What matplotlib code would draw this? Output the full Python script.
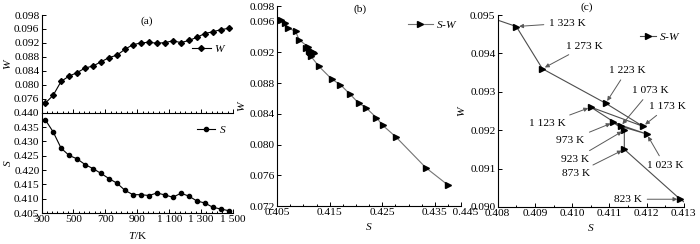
import matplotlib
matplotlib.use("Agg")
from matplotlib import pyplot as plt
from matplotlib.ticker import MultipleLocator, AutoMinorLocator, FixedLocator, FixedFormatter, FuncFormatter

plt.rcParams['font.family'] = ['Liberation Serif', 'DejaVu Serif']
plt.rcParams['mathtext.fontset'] = 'custom'
plt.rcParams['mathtext.rm'] = 'Liberation Serif'
plt.rcParams['mathtext.it'] = 'Liberation Serif:italic'
plt.rcParams['font.size'] = 8.2

# temperature, K
T = [323, 373, 423, 473, 523, 573, 623, 673, 723, 773, 823, 873,
     923, 973, 1023, 1073, 1123, 1173, 1223, 1273, 1323, 1373, 1423, 1473]
S = [0.4376, 0.4333, 0.4276, 0.4251, 0.4239, 0.4219, 0.4205, 0.4188,
     0.4170, 0.4154, 0.4129, 0.4114, 0.4114, 0.4111, 0.4120, 0.4113,
     0.4105, 0.4119, 0.4109, 0.4092, 0.4085, 0.4070, 0.4064, 0.4058]
W = [0.0747, 0.0770, 0.0810, 0.0825, 0.0835, 0.0848, 0.0854, 0.0866,
     0.0878, 0.0885, 0.0902, 0.0915, 0.0920, 0.0922, 0.0919, 0.0921,
     0.0926, 0.0921, 0.0927, 0.0936, 0.0947, 0.0952, 0.0958, 0.0962]

# labelled temperatures in panel (c) and where their text sits (S, W)
c_temps = [1323, 1273, 1223, 1073, 1173, 1123, 973, 923, 873, 1023, 823]
c_text_pos = [(0.40988, 0.09479), (0.41034, 0.09419), (0.41147, 0.09356),
              (0.41211, 0.09304), (0.41257, 0.09262), (0.40934, 0.09218),
              (0.40994, 0.09174), (0.41007, 0.09124), (0.41010, 0.09087),
              (0.41249, 0.09108), (0.41149, 0.09020)]


def thousands(v, pos):
    s = "%d" % round(v)
    if len(s) > 3:
        s = s[:-3] + " " + s[-3:]
    return s


def style(ax):
    ax.patch.set_visible(False)
    ax.spines['top'].set_visible(False)
    ax.spines['right'].set_visible(False)
    for sp in ax.spines.values():
        sp.set_linewidth(0.8)
    ax.tick_params(which='both', direction='in', width=0.7, pad=1.5)
    ax.tick_params(which='major', length=3)
    ax.tick_params(which='minor', length=1.8)


fig = plt.figure(figsize=(7.0, 2.44), dpi=100)

# ---- (a) top: W vs T
axW = fig.add_axes([0.0593, 0.538, 0.2737, 0.4005])
style(axW)
axW.plot(T, W, color='black', lw=0.8, marker='D', ms=3.0, label='$W$')
axW.set_xlim(300, 1500)
axW.set_ylim(0.072, 0.100)
axW.yaxis.set_major_locator(FixedLocator([0.076, 0.080, 0.084, 0.088, 0.092, 0.096, 0.100]))
axW.yaxis.set_major_formatter(FixedFormatter(['0.076', '0.080', '0.084', '0.088', '0.092', '0.096', '0.098']))
axW.xaxis.set_major_locator(FixedLocator(list(range(300, 1501, 200))))
axW.xaxis.set_minor_locator(AutoMinorLocator(6))
axW.tick_params(axis='x', labelbottom=False)
axW.set_ylabel('$W$')
axW.yaxis.set_label_coords(-0.15, 0.5)
axW.text(0.55, 0.94, '(a)', transform=axW.transAxes, ha='center', va='center')
axW.legend(loc='upper right', bbox_to_anchor=(1.0, 0.78), frameon=False,
           handlelength=1.6, handletextpad=0.3, borderaxespad=0.2)

# ---- (a) bottom: S vs T
axS = fig.add_axes([0.0593, 0.127, 0.2737, 0.411])
style(axS)
axS.plot(T, S, color='black', lw=0.8, marker='o', ms=3.0, label='$S$')
axS.set_xlim(300, 1500)
axS.set_ylim(0.405, 0.440)
axS.yaxis.set_major_locator(MultipleLocator(0.005))
axS.yaxis.set_major_formatter(FuncFormatter(lambda v, p: "%.3f" % v))
axS.xaxis.set_major_locator(FixedLocator(list(range(300, 1501, 200))))
axS.xaxis.set_minor_locator(AutoMinorLocator(6))
axS.xaxis.set_major_formatter(FuncFormatter(thousands))
axS.set_ylabel('$S$')
axS.yaxis.set_label_coords(-0.15, 0.5)
axS.set_xlabel('$T$/K', labelpad=4)
axS.legend(loc='upper right', bbox_to_anchor=(1.0, 0.96), frameon=False,
           handlelength=1.6, handletextpad=0.3, borderaxespad=0.2)

# ---- (b) W vs S
axB = fig.add_axes([0.396, 0.155, 0.2626, 0.82])
style(axB)
axB.plot(S, W, color='0.45', lw=0.8, marker='>', ms=4.0, mfc='black', mec='black', label='$S$-$W$')
axB.set_xlim(0.405, 0.440)
axB.set_ylim(0.072, 0.098)
axB.xaxis.set_major_locator(FixedLocator([0.405, 0.415, 0.425, 0.435, 0.440]))
axB.xaxis.set_major_formatter(FixedFormatter(['0.405', '0.415', '0.425', '0.435', '   0.445']))
axB.xaxis.set_minor_locator(MultipleLocator(0.0025))
axB.yaxis.set_major_locator(FixedLocator([0.072, 0.076, 0.080, 0.084, 0.088, 0.092, 0.096, 0.098]))
axB.yaxis.set_major_formatter(FuncFormatter(lambda v, p: "%.3f" % v))
axB.set_xlabel('$S$', labelpad=3)
axB.set_ylabel('$W$', labelpad=2)
axB.text(0.45, 0.985, '(b)', transform=axB.transAxes, ha='center', va='center')
axB.legend(loc='upper right', bbox_to_anchor=(1.02, 0.97), frameon=False,
           handlelength=2.2, handletextpad=0.3, borderaxespad=0.2)

# ---- (c) zoomed W vs S with temperature labels
axC = fig.add_axes([0.711, 0.152, 0.266, 0.7865])
style(axC)
axC.plot(S, W, color='0.3', lw=0.8, marker='>', ms=4.0, mfc='black', mec='black', label='$S$-$W$')
axC.set_xlim(0.408, 0.413)
axC.set_ylim(0.090, 0.095)
axC.xaxis.set_major_locator(MultipleLocator(0.001))
axC.xaxis.set_minor_locator(MultipleLocator(0.0005))
axC.yaxis.set_major_locator(MultipleLocator(0.001))
axC.xaxis.set_major_formatter(FuncFormatter(lambda v, p: "%.3f" % v))
axC.yaxis.set_major_formatter(FuncFormatter(lambda v, p: "%.3f" % v))
axC.set_xlabel('$S$', labelpad=3)
axC.set_ylabel('$W$', labelpad=2)
axC.text(0.48, 1.04, '(c)', transform=axC.transAxes, ha='center', va='center')
axC.legend(loc='upper right', bbox_to_anchor=(1.02, 0.95), frameon=False,
           handlelength=1.4, handletextpad=0.3, borderaxespad=0.2)

for t, (tx, ty) in zip(c_temps, c_text_pos):
    i = T.index(t)
    axC.annotate(thousands(t, None) + ' K', xy=(S[i], W[i]), xytext=(tx, ty),
                 ha='center', va='center',
                 arrowprops=dict(arrowstyle='-|>', color='0.35', lw=0.7,
                                 mutation_scale=6, shrinkB=2))

fig.savefig('out.png', dpi=100)
